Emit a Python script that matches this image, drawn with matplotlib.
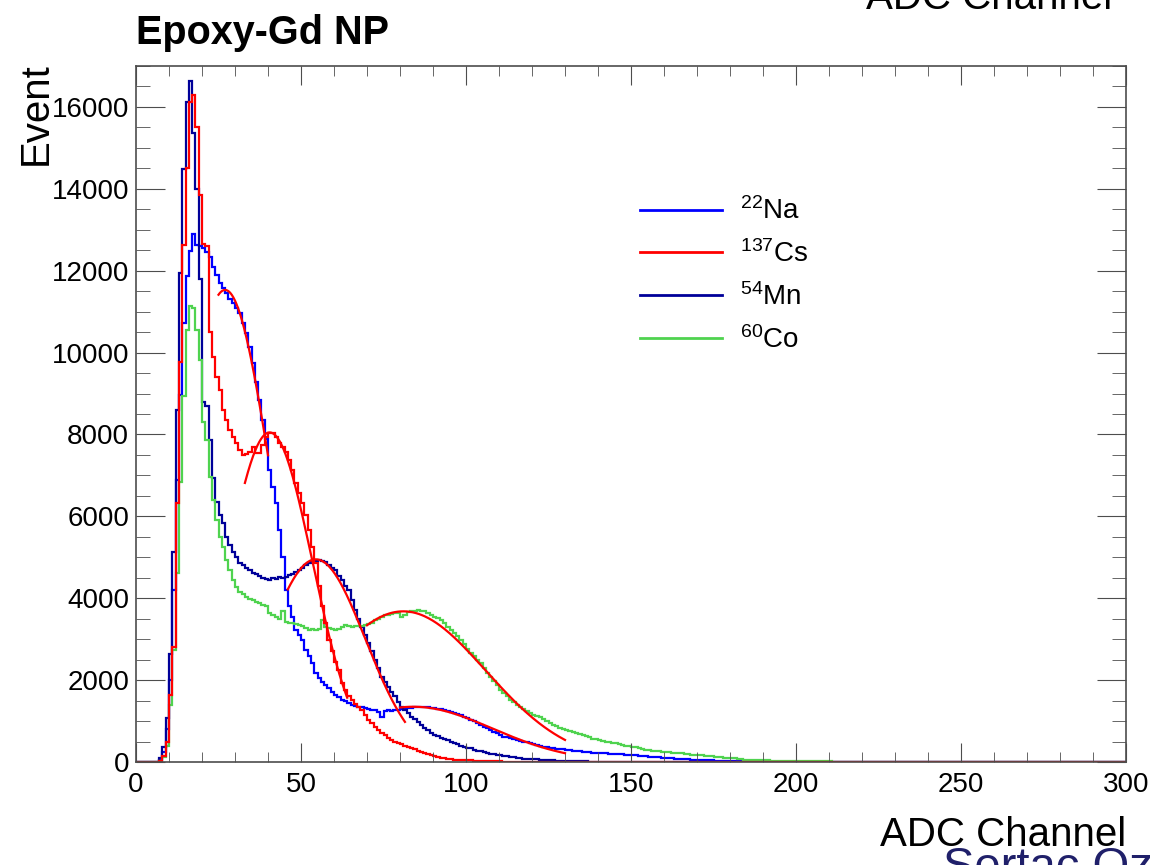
#!/usr/bin/env python3
"""Epoxy-Gd NP: ADC spectra of four gamma sources with their Gaussian fits."""

import matplotlib as mpl
mpl.use('Agg')
import matplotlib.pyplot as plt
from matplotlib.lines import Line2D
import numpy as np

###########################################################################
# DATA
# counts per ADC channel, bin width 1, starting at channel 0 (read off the
# plot). Every bin after the end of a list is empty, up to channel 300.
na22_counts = [
    0, 0, 0, 0, 0, 0, 0, 60, 250, 800,
    2000, 4200, 6900, 8970, 10720, 11860, 12470, 12900, 12630, 12600,
    12550, 12450, 12340, 12100, 11900, 11700, 11580, 11450, 11300, 11210,
    11080, 10970, 10720, 10480, 10140, 9750, 9280, 8840, 8350, 7900,
    7130, 6720, 6330, 5670, 5010, 4200, 3800, 3540, 3220, 3100,
    2980, 2740, 2580, 2420, 2170, 2050, 1960, 1880, 1800, 1720,
    1640, 1580, 1515, 1480, 1440, 1400, 1370, 1350, 1340, 1330,
    1300, 1260, 1270, 1230, 1100, 1240, 1260, 1250, 1270, 1280,
    1300, 1310, 1320, 1320, 1340, 1350, 1340, 1350, 1340, 1320,
    1320, 1300, 1290, 1270, 1250, 1230, 1200, 1170, 1150, 1110,
    1070, 1030, 990, 950, 900, 860, 820, 780, 740, 700,
    660, 620, 600, 580, 560, 540, 520, 500, 480, 460,
    440, 420, 400, 375, 360, 345, 330, 320, 310, 320,
    300, 290, 280, 270, 260, 250, 245, 240, 230, 225,
    220, 215, 210, 205, 200, 195, 190, 185, 180, 175,
    170, 160, 150, 145, 140, 130, 125, 120, 115, 105,
    100, 95, 90, 85, 80, 75, 70, 65, 60, 55,
    50, 48, 45, 42, 40, 36, 33, 30, 28, 26,
    25, 22, 20, 18, 16, 15, 14, 12, 11, 10,
    10, 9, 8, 7, 6, 5, 4, 3, 2, 2]

cs137_counts = [
    0, 0, 0, 0, 0, 0, 0, 30, 150, 500,
    1640, 2820, 6320, 9780, 12630, 14510, 16130, 16300, 15500, 13850,
    12650, 12600, 10500, 9900, 9400, 9090, 8600, 8350, 8110, 7940,
    7790, 7620, 7500, 7520, 7580, 7700, 7540, 7540, 7740, 7940,
    8040, 8040, 7940, 7790, 7700, 7580, 7380, 7130, 6810, 6570,
    6320, 6030, 5670, 5250, 4860, 4300, 3800, 3400, 2980, 2700,
    2450, 2250, 1930, 1750, 1600, 1510, 1420, 1340, 1270, 1150,
    1030, 950, 860, 780, 720, 650, 590, 540, 500, 460,
    430, 400, 370, 340, 310, 280, 250, 220, 200, 170,
    145, 120, 105, 90, 80, 70, 60, 55, 50, 45,
    40, 38, 35, 30, 28, 25, 22, 20, 18, 15,
    13, 12, 10, 9, 8, 7, 6, 5, 4, 3]

mn54_counts = [
    0, 0, 0, 0, 0, 0, 0, 100, 370, 1070,
    2640, 5140, 8600, 11940, 14490, 16130, 16640, 15360, 14000, 11800,
    8800, 8700, 7870, 6940, 6360, 6030, 5840, 5500, 5300, 5140,
    5015, 4860, 4800, 4740, 4680, 4620, 4580, 4540, 4500, 4470,
    4450, 4500, 4480, 4530, 4500, 4520, 4570, 4600, 4650, 4700,
    4740, 4800, 4860, 4900, 4920, 4940, 4900, 4880, 4800, 4750,
    4700, 4550, 4450, 4300, 4200, 3950, 3710, 3500, 3300, 3100,
    2900, 2700, 2490, 2300, 2080, 1950, 1840, 1720, 1600, 1470,
    1350, 1270, 1190, 1110, 1040, 970, 900, 840, 770, 710,
    670, 630, 590, 560, 530, 500, 470, 440, 400, 375,
    350, 330, 300, 280, 260, 240, 220, 200, 185, 170,
    160, 150, 140, 125, 115, 105, 95, 85, 80, 75,
    70, 65, 60, 55, 50, 45, 40, 36, 33, 30,
    28, 25, 22, 20, 18, 16, 14, 12, 10, 9,
    8, 7, 6, 5, 5, 4, 3, 2, 2, 1]

co60_counts = [
    0, 0, 0, 0, 0, 0, 0, 30, 120, 400,
    1390, 2740, 4620, 6850, 8930, 10550, 11140, 11100, 10550, 9820,
    8300, 7870, 6970, 6400, 5910, 5500, 5260, 4930, 4690, 4450,
    4280, 4160, 4100, 4040, 3990, 3960, 3920, 3880, 3840, 3800,
    3640, 3600, 3550, 3500, 3680, 3430, 3400, 3390, 3370, 3350,
    3320, 3280, 3220, 3240, 3230, 3260, 3470, 3300, 3280, 3250,
    3220, 3240, 3300, 3350, 3330, 3300, 3320, 3310, 3330, 3340,
    3360, 3400, 3470, 3500, 3540, 3590, 3600, 3620, 3640, 3630,
    3550, 3600, 3670, 3680, 3700, 3710, 3680, 3690, 3650, 3600,
    3550, 3520, 3470, 3390, 3300, 3220, 3150, 3080, 2980, 2870,
    2760, 2660, 2580, 2500, 2420, 2300, 2180, 2080, 1980, 1870,
    1760, 1680, 1600, 1515, 1460, 1400, 1350, 1290, 1240, 1190,
    1160, 1130, 1110, 1060, 1000, 950, 910, 870, 830, 800,
    780, 760, 730, 710, 690, 660, 630, 600, 570, 550,
    540, 520, 500, 480, 470, 460, 440, 420, 400, 385,
    375, 360, 340, 320, 300, 290, 280, 270, 260, 250,
    250, 240, 230, 220, 215, 210, 200, 190, 180, 175,
    170, 160, 150, 140, 135, 130, 120, 110, 105, 100,
    100, 90, 80, 70, 60, 55, 50, 48, 46, 44,
    42, 40, 36, 32, 28, 25, 24, 23, 22, 21,
    20, 20, 19, 18, 18, 17, 16, 15, 15, 14,
    13, 12, 10, 8, 5]

# Gaussian fits on top of the spectra: (constant, mean, sigma, from, to)
na22_fits = [(11530, 27.0, 14.0, 25, 40), (1350, 84.0, 24.0, 80, 130)]
cs137_fits = [(8050, 40.5, 13.0, 33, 64)]
mn54_fits = [(4950, 54.5, 15.0, 46, 81.5)]
co60_fits = [(3680, 81.0, 25.0, 70, 130)]

source_labels = [r'$^{22}$Na', r'$^{137}$Cs', r'$^{54}$Mn', r'$^{60}$Co']
source_colors = ['#0000ff', '#ff0000', '#000099', '#4fd34f']

n_channels = 300


def gaus(x, const, mean, sigma):
    """ROOT style 'gaus' fit function"""
    return const * np.exp(-0.5 * ((x - mean) / sigma) ** 2)


def main():
    """Draw the four spectra"""
    ###########################################################################
    # CONFIGURATION
    mpl.rc('font', family='Liberation Sans')
    mpl.rc('mathtext', fontset='custom', rm='Liberation Sans',
           it='Liberation Sans:italic', bf='Liberation Sans:bold')
    frame_color = '#4d4d4d'

    edges = np.arange(n_channels + 1)
    spectra = [na22_counts, cs137_counts, mn54_counts, co60_counts]
    fits = [na22_fits, cs137_fits, mn54_fits, co60_fits]

    ###########################################################################
    fig = plt.figure(figsize=(11.51, 8.65), dpi=100)
    ax = fig.add_axes([136 / 1151, 1 - 762 / 865, 990 / 1151, 696 / 865])

    # Cs last so that its empty bins sit on top of the baseline, as in ROOT
    for i in [0, 2, 3, 1]:
        counts = np.zeros(n_channels)
        counts[:len(spectra[i])] = spectra[i]
        ax.stairs(counts, edges, color=source_colors[i], lw=1.6)

    for fit_list in fits:
        for const, mean, sigma, x_from, x_to in fit_list:
            xs = np.linspace(x_from, x_to, 200)
            ax.plot(xs, gaus(xs, const, mean, sigma), color='#ff0000', lw=1.6)

    ax.set_xlim(0, 300)
    ax.set_ylim(0, 17000)
    ax.set_xticks(np.arange(0, 301, 50))
    ax.set_xticks(np.arange(0, 301, 10), minor=True)
    ax.set_yticks(np.arange(0, 16001, 2000))
    ax.set_yticks(np.arange(0, 17001, 500), minor=True)
    ax.tick_params(which='both', direction='in', top=True, right=True,
                   color=frame_color, labelsize=20)
    ax.tick_params(axis='y', which='major', length=21, pad=5)
    ax.tick_params(axis='y', which='minor', length=10)
    ax.tick_params(axis='x', which='major', length=14, pad=7)
    ax.tick_params(axis='x', which='minor', length=7)
    for spine in ax.spines.values():
        spine.set_color(frame_color)
        spine.set_linewidth(1.2)

    ax.set_xlabel('ADC Channel', fontsize=29, loc='right')
    ax.xaxis.set_label_coords(1.0, -0.077)
    ax.set_ylabel('Event', fontsize=29, loc='top')
    ax.yaxis.set_label_coords(-0.082, 1.005)
    ax.set_title('Epoxy-Gd NP', loc='left', fontsize=28.5, fontweight='bold',
                 pad=16)

    handles = [Line2D([], [], color=c, lw=2) for c in source_colors]
    ax.legend(handles, source_labels, loc='upper left', frameon=False,
              bbox_to_anchor=(0.509, 0.811), fontsize=20, handlelength=2.95,
              handletextpad=0.65, labelspacing=0.54, borderpad=0,
              borderaxespad=0)

    # cut-off captions at the edges of the screenshot
    fig.text(866 / 1151, 1 - 9 / 865, 'ADC Channel', fontsize=29,
             va='baseline')
    fig.text(943 / 1151, 1 - 846 / 865, 'Sertac Ozt', fontsize=34,
             color='#20206a', va='top')

    fig.savefig('out.png', dpi=100)
    ###########################################################################


if __name__ == '__main__':
    main()
